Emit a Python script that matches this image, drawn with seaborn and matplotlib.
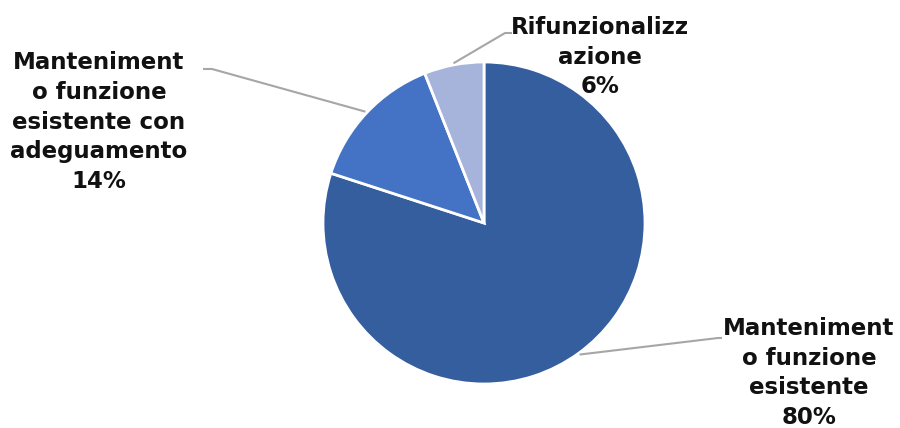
import numpy as np
import seaborn as sns
import matplotlib.pyplot as plt

# dati
labels = ["Manteniment\no funzione\nesistente",
          "Manteniment\no funzione\nesistente con\nadeguamento",
          "Rifunzionalizz\nazione"]
values = [80, 14, 6]
colors = ["#355E9F", "#4472C4", "#A6B3DA"]

# posizione etichette (pixel, origine in alto a sinistra) e gomito della linea guida
label_xy = [(809, 373), (99, 122), (600, 57)]
elbow_xy = [(718, 338), (212, 69), (505, 33)]
elbow_end_x = [722, 203, 512]

sns.set_theme(style="white")
plt.rcParams['font.family'] = ['DejaVu Sans']

W, H = 900, 428
fig = plt.figure(figsize=(9, 4.28), dpi=100)
ax = fig.add_axes([0, 0, 1, 1])

cx, cy, r = 484, H - 223, 161
wedges, _ = ax.pie(values, colors=colors, startangle=90, counterclock=False,
                   center=(cx, cy), radius=r, frame=True,
                   wedgeprops=dict(edgecolor='white', linewidth=2))
ax.set_xlim(0, W)
ax.set_ylim(0, H)
ax.set_aspect('equal')
ax.axis('off')

for w, lab, v, (lx, ly), (ex, ey), ex2 in zip(wedges, labels, values, label_xy,
                                            elbow_xy, elbow_end_x):
    ang = np.deg2rad((w.theta1 + w.theta2) / 2)
    sx = cx + r * 1.01 * np.cos(ang)
    sy = cy + r * 1.01 * np.sin(ang)
    ax.plot([sx, ex, ex2], [sy, H - ey, H - ey], color='#A6A6A6', lw=1.5,
            solid_capstyle='butt')
    ax.text(lx, H - ly, f"{lab}\n{v}%", ha='center', va='center',
            fontsize=16.5, fontweight='bold', color='#111111', linespacing=1.37)

fig.savefig("out.png", dpi=100)
